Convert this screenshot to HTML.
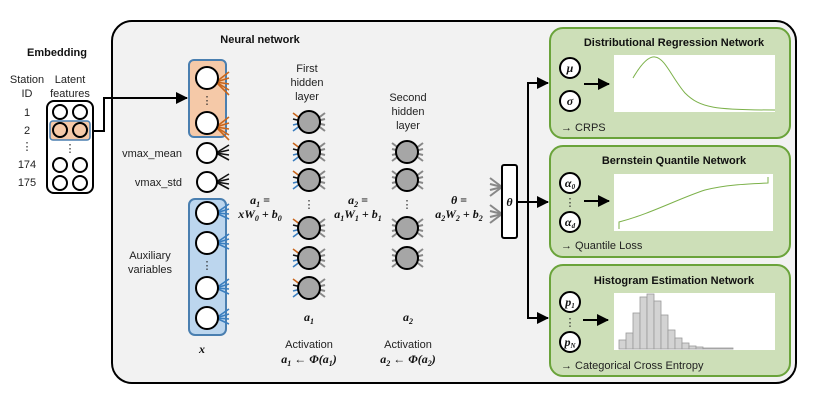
<!DOCTYPE html>
<html><head><meta charset="utf-8"><style>
body{margin:0;background:#fff;}
svg{display:block;font-family:"Liberation Sans",sans-serif;}
.t{font-size:11px;fill:#222;}
.b{font-weight:bold;fill:#111;}
.m{font-family:"Liberation Serif",serif;font-style:italic;font-weight:bold;font-size:12px;fill:#111;}
.s{font-size:8px;}
</style></head><body>
<svg width="830" height="403" viewBox="0 0 830 403">
<defs>
<g id="fo" stroke="#c8651b" stroke-width="1.6"><line x1="0" y1="0" x2="13" y2="-10"/><line x1="0" y1="0" x2="13" y2="-4"/><line x1="0" y1="0" x2="13" y2="2"/><line x1="0" y1="0" x2="13" y2="8"/><line x1="0" y1="0" x2="13" y2="13"/></g>
<g id="fb" stroke="#3a7ebf" stroke-width="1.6"><line x1="0" y1="0" x2="13" y2="-9"/><line x1="0" y1="0" x2="13" y2="-4"/><line x1="0" y1="0" x2="13" y2="1"/><line x1="0" y1="0" x2="13" y2="6"/></g>
<g id="fk" stroke="#111" stroke-width="1.6"><line x1="0" y1="0" x2="13" y2="-8"/><line x1="0" y1="0" x2="13" y2="-3"/><line x1="0" y1="0" x2="13" y2="2"/><line x1="0" y1="0" x2="13" y2="7"/></g>
<g id="fg" stroke="#888" stroke-width="2"><line x1="0" y1="0" x2="12" y2="-9"/><line x1="0" y1="0" x2="12" y2="-3"/><line x1="0" y1="0" x2="12" y2="3"/><line x1="0" y1="0" x2="12" y2="9"/></g>
<g id="fl"><line x1="0" y1="0" x2="-12" y2="-9" stroke="#c8651b" stroke-width="1.6"/><line x1="0" y1="0" x2="-12" y2="-3" stroke="#111" stroke-width="1.6"/><line x1="0" y1="0" x2="-12" y2="3" stroke="#3a7ebf" stroke-width="1.6"/><line x1="0" y1="0" x2="-12" y2="9" stroke="#3a7ebf" stroke-width="1.6"/></g>
<g id="gl" stroke="#888" stroke-width="2"><line x1="0" y1="0" x2="-12" y2="-9"/><line x1="0" y1="0" x2="-12" y2="-3"/><line x1="0" y1="0" x2="-12" y2="3"/><line x1="0" y1="0" x2="-12" y2="9"/></g>
<marker id="ar2" markerWidth="12" markerHeight="12" refX="11" refY="6" orient="auto" markerUnits="userSpaceOnUse"><path d="M0,0 L12,6 L0,12z" fill="#000"/></marker>
</defs>

<!-- Embedding -->
<text x="57" y="56" class="t b" font-size="12" text-anchor="middle">Embedding</text>
<text x="27" y="83" class="t" text-anchor="middle">Station</text>
<text x="27" y="97" class="t" text-anchor="middle">ID</text>
<text x="70" y="83" class="t" text-anchor="middle">Latent</text>
<text x="70" y="97" class="t" text-anchor="middle">features</text>
<text x="27" y="116" class="t" text-anchor="middle">1</text>
<text x="27" y="134" class="t" text-anchor="middle">2</text>
<text x="27" y="150" class="t" text-anchor="middle">⋮</text>
<text x="27" y="168" class="t" text-anchor="middle">174</text>
<text x="27" y="186" class="t" text-anchor="middle">175</text>
<rect x="47" y="101" width="46" height="92" rx="7" fill="#fff" stroke="#000" stroke-width="2"/>
<rect x="50" y="121" width="40" height="19" rx="3" fill="#f5c9a8" stroke="#4a7fb0" stroke-width="1.5"/>
<g fill="#fff" stroke="#000" stroke-width="2">
<circle cx="60" cy="112" r="7"/><circle cx="80" cy="112" r="7"/>
<circle cx="60" cy="130" r="7" fill="none"/><circle cx="80" cy="130" r="7" fill="none"/>
<circle cx="60" cy="165" r="7"/><circle cx="80" cy="165" r="7"/>
<circle cx="60" cy="183" r="7"/><circle cx="80" cy="183" r="7"/>
</g>
<text x="70" y="152" class="t" text-anchor="middle" font-size="9">⋮</text>

<!-- main box -->
<rect x="112" y="21" width="684" height="362" rx="20" fill="#f2f2f2" stroke="#000" stroke-width="2"/>
<text x="260" y="43" class="t b" font-size="12" text-anchor="middle">Neural network</text>

<polyline points="93,131 104,131 104,98 187,98" fill="none" stroke="#000" stroke-width="2" marker-end="url(#ar2)"/>

<!-- input boxes -->
<rect x="189" y="60" width="37" height="77" rx="5" fill="#f5c9a8" stroke="#4a7fb0" stroke-width="2"/>
<rect x="189" y="199" width="37" height="136" rx="6" fill="#bcd6ee" stroke="#4a7fb0" stroke-width="2"/>
<use href="#fo" x="216" y="82"/><use href="#fo" x="216" y="127"/>
<use href="#fk" x="216" y="153"/><use href="#fk" x="216" y="182"/>
<use href="#fb" x="216" y="213"/><use href="#fb" x="216" y="243"/><use href="#fb" x="216" y="288"/><use href="#fb" x="216" y="318"/>
<g fill="#fff" stroke="#000" stroke-width="2">
<circle cx="207" cy="78" r="11"/><circle cx="207" cy="123" r="11"/>
<circle cx="207" cy="153" r="10"/><circle cx="207" cy="182" r="10"/>
<circle cx="207" cy="213" r="11"/><circle cx="207" cy="243" r="11"/><circle cx="207" cy="288" r="11"/><circle cx="207" cy="318" r="11"/>
</g>
<text x="207" y="104" class="t" text-anchor="middle" font-size="9">⋮</text>
<text x="207" y="269" class="t" text-anchor="middle" font-size="9">⋮</text>
<text x="182" y="157" class="t" text-anchor="end">vmax_mean</text>
<text x="182" y="186" class="t" text-anchor="end">vmax_std</text>
<text x="150" y="259" class="t" text-anchor="middle">Auxiliary</text>
<text x="150" y="273" class="t" text-anchor="middle">variables</text>
<text x="202" y="353" class="m" text-anchor="middle">x</text>

<!-- formulas -->
<text x="260" y="204" class="m" text-anchor="middle">a<tspan class="s" dy="3">1</tspan><tspan dy="-3"> =</tspan></text>
<text x="260" y="218" class="m" text-anchor="middle">xW<tspan class="s" dy="3">0</tspan><tspan dy="-3"> + b</tspan><tspan class="s" dy="3">0</tspan></text>
<text x="358" y="204" class="m" text-anchor="middle">a<tspan class="s" dy="3">2</tspan><tspan dy="-3"> =</tspan></text>
<text x="358" y="218" class="m" text-anchor="middle">a<tspan class="s" dy="3">1</tspan><tspan dy="-3">W</tspan><tspan class="s" dy="3">1</tspan><tspan dy="-3"> + b</tspan><tspan class="s" dy="3">1</tspan></text>
<text x="459" y="204" class="m" text-anchor="middle">θ =</text>
<text x="459" y="218" class="m" text-anchor="middle">a<tspan class="s" dy="3">2</tspan><tspan dy="-3">W</tspan><tspan class="s" dy="3">2</tspan><tspan dy="-3"> + b</tspan><tspan class="s" dy="3">2</tspan></text>

<!-- hidden 1 -->
<text x="307" y="72" class="t" text-anchor="middle">First</text>
<text x="307" y="86" class="t" text-anchor="middle">hidden</text>
<text x="307" y="100" class="t" text-anchor="middle">layer</text>
<use href="#fl" x="305" y="122"/><use href="#fl" x="305" y="152"/><use href="#fl" x="305" y="180"/><use href="#fl" x="305" y="228"/><use href="#fl" x="305" y="258"/><use href="#fl" x="305" y="288"/>
<use href="#fg" x="313" y="122"/><use href="#fg" x="313" y="152"/><use href="#fg" x="313" y="180"/><use href="#fg" x="313" y="228"/><use href="#fg" x="313" y="258"/><use href="#fg" x="313" y="288"/>
<g fill="#a6a6a6" stroke="#000" stroke-width="2">
<circle cx="309" cy="122" r="11"/><circle cx="309" cy="152" r="11"/><circle cx="309" cy="180" r="11"/>
<circle cx="309" cy="228" r="11"/><circle cx="309" cy="258" r="11"/><circle cx="309" cy="288" r="11"/>
</g>
<text x="309" y="208" class="t" text-anchor="middle" font-size="9">⋮</text>
<text x="309" y="321" class="m" text-anchor="middle">a<tspan class="s" dy="3">1</tspan></text>
<text x="309" y="348" class="t" text-anchor="middle">Activation</text>
<text x="309" y="363" class="m" text-anchor="middle">a<tspan class="s" dy="3">1</tspan><tspan dy="-3"> ← Φ(a</tspan><tspan class="s" dy="3">1</tspan><tspan dy="-3">)</tspan></text>

<!-- hidden 2 -->
<text x="408" y="101" class="t" text-anchor="middle">Second</text>
<text x="408" y="115" class="t" text-anchor="middle">hidden</text>
<text x="408" y="129" class="t" text-anchor="middle">layer</text>
<use href="#gl" x="404" y="152"/><use href="#gl" x="404" y="180"/><use href="#gl" x="404" y="228"/><use href="#gl" x="404" y="258"/>
<use href="#fg" x="411" y="152"/><use href="#fg" x="411" y="180"/><use href="#fg" x="411" y="228"/><use href="#fg" x="411" y="258"/>
<g fill="#a6a6a6" stroke="#000" stroke-width="2">
<circle cx="407" cy="152" r="11"/><circle cx="407" cy="180" r="11"/><circle cx="407" cy="228" r="11"/><circle cx="407" cy="258" r="11"/>
</g>
<text x="407" y="208" class="t" text-anchor="middle" font-size="9">⋮</text>
<text x="408" y="321" class="m" text-anchor="middle">a<tspan class="s" dy="3">2</tspan></text>
<text x="408" y="348" class="t" text-anchor="middle">Activation</text>
<text x="408" y="363" class="m" text-anchor="middle">a<tspan class="s" dy="3">2</tspan><tspan dy="-3"> ← Φ(a</tspan><tspan class="s" dy="3">2</tspan><tspan dy="-3">)</tspan></text>

<!-- theta -->
<use href="#gl" x="502" y="187"/><use href="#gl" x="502" y="214"/>
<rect x="502" y="165" width="15" height="73" rx="2" fill="#fff" stroke="#000" stroke-width="2"/>
<text x="509.5" y="206" class="m" text-anchor="middle">θ</text>
<line x1="517" y1="202" x2="528" y2="202" stroke="#000" stroke-width="2"/>
<line x1="528" y1="83" x2="528" y2="318" stroke="#000" stroke-width="2"/>
<line x1="527" y1="83" x2="548" y2="83" stroke="#000" stroke-width="2" marker-end="url(#ar2)"/>
<line x1="527" y1="202" x2="548" y2="202" stroke="#000" stroke-width="2" marker-end="url(#ar2)"/>
<line x1="527" y1="318" x2="548" y2="318" stroke="#000" stroke-width="2" marker-end="url(#ar2)"/>

<!-- green boxes -->
<g fill="#cddfb8" stroke="#6aa33a" stroke-width="2">
<rect x="550" y="28" width="240" height="110" rx="13"/>
<rect x="550" y="146" width="240" height="111" rx="13"/>
<rect x="550" y="265" width="240" height="111" rx="13"/>
</g>
<text x="674" y="46" class="t b" text-anchor="middle">Distributional Regression Network</text>
<text x="674" y="164" class="t b" text-anchor="middle">Bernstein Quantile Network</text>
<text x="674" y="284" class="t b" text-anchor="middle">Histogram Estimation Network</text>
<g fill="#fff" stroke="#000" stroke-width="2">
<circle cx="570" cy="68" r="10"/><circle cx="570" cy="101" r="10"/>
<circle cx="570" cy="183" r="10"/><circle cx="570" cy="222" r="10"/>
<circle cx="570" cy="302" r="10"/><circle cx="570" cy="342" r="10"/>
</g>
<g class="m" font-weight="normal" font-size="11" text-anchor="middle">
<text x="570" y="72">μ</text><text x="570" y="105">σ</text>
<text x="570" y="187">α<tspan font-size="7" dy="2">0</tspan></text>
<text x="570" y="226">α<tspan font-size="7" dy="2">d</tspan></text>
<text x="570" y="306">p<tspan font-size="7" dy="2">1</tspan></text>
<text x="570" y="346">p<tspan font-size="7" dy="2">N</tspan></text>
</g>
<text x="570" y="206" class="t" text-anchor="middle" font-size="8" fill="#666">⋮</text>
<text x="570" y="326" class="t" text-anchor="middle" font-size="8">⋮</text>
<line x1="584" y1="84" x2="609" y2="84" stroke="#000" stroke-width="2" marker-end="url(#ar2)"/>
<line x1="584" y1="201" x2="609" y2="201" stroke="#000" stroke-width="2" marker-end="url(#ar2)"/>
<line x1="583" y1="320" x2="608" y2="320" stroke="#000" stroke-width="2" marker-end="url(#ar2)"/>
<text x="561" y="131" class="t">→ CRPS</text>
<text x="561" y="249" class="t">→ Quantile Loss</text>
<text x="561" y="369" class="t">→ Categorical Cross Entropy</text>

<!-- plots -->
<rect x="614" y="55" width="161" height="57" fill="#fff"/>
<path d="M633,78 C640,66 648,56 655,57 C665,58 672,78 685,93 C700,108 715,110 775,110" fill="none" stroke="#7cb14a" stroke-width="1"/>
<rect x="614" y="174" width="159" height="57" fill="#fff"/>
<path d="M619,229 L619,222 C650,214 680,198 705,190 C725,185 745,184 768,183 L768,177" fill="none" stroke="#7cb14a" stroke-width="1"/>
<rect x="614" y="293" width="161" height="57" fill="#fff"/>
<g fill="#d3d3d3" stroke="#999" stroke-width="0.8">
<rect x="619" y="340" width="7" height="9"/><rect x="626" y="333" width="7" height="16"/><rect x="633" y="313" width="7" height="36"/><rect x="640" y="297" width="7" height="52"/><rect x="647" y="294" width="7" height="55"/><rect x="654" y="301" width="7" height="48"/><rect x="661" y="315" width="7" height="34"/><rect x="668" y="330" width="7" height="19"/><rect x="675" y="338" width="7" height="11"/><rect x="682" y="343" width="7" height="6"/><rect x="689" y="346" width="7" height="3"/><rect x="696" y="347" width="7" height="2"/><rect x="703" y="348" width="30" height="1"/>
</g>
</svg>
</body></html>
